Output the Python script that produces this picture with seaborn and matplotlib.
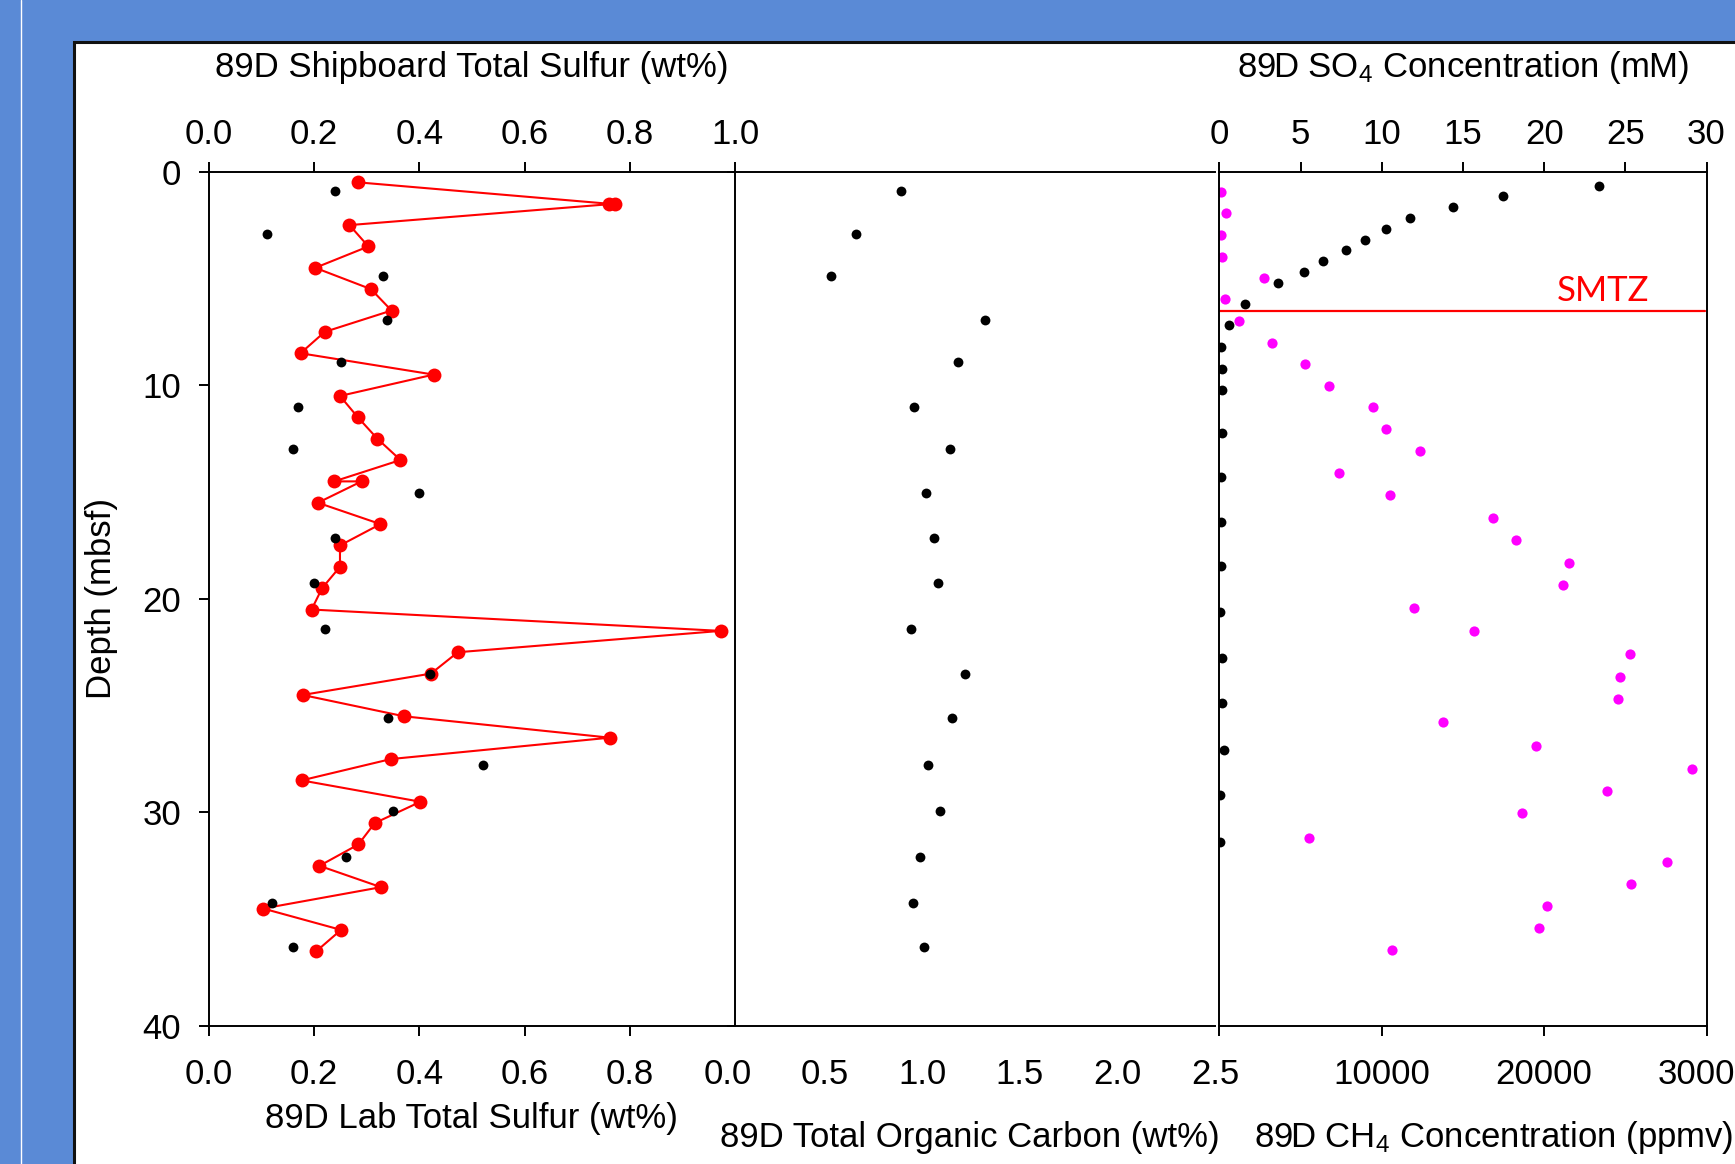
import matplotlib
matplotlib.use("Agg")
import matplotlib.pyplot as plt
import seaborn as sns
from matplotlib.patches import Rectangle
from matplotlib.lines import Line2D

# ---------------- data ----------------
lab_depth = [0.5, 1.5, 1.5, 2.5, 3.5, 4.5, 5.5, 6.5, 7.5, 8.5, 9.5, 10.5, 11.5, 12.5,
             13.5, 14.5, 14.5, 15.5, 16.5, 17.5, 18.5, 19.5, 20.5, 21.5, 22.5, 23.5,
             24.5, 25.5, 26.5, 27.5, 28.5, 29.5, 30.5, 31.5, 32.5, 33.5, 34.5, 35.5, 36.5]
lab_sulfur = [0.284, 0.760, 0.772, 0.267, 0.303, 0.202, 0.308, 0.347, 0.220, 0.174,
              0.427, 0.249, 0.283, 0.320, 0.364, 0.238, 0.290, 0.207, 0.326, 0.249,
              0.249, 0.215, 0.195, 0.973, 0.473, 0.422, 0.178, 0.371, 0.762, 0.346,
              0.176, 0.402, 0.315, 0.284, 0.210, 0.327, 0.103, 0.251, 0.204]

sample_depth = [0.9, 2.9, 4.9, 6.95, 8.9, 11.0, 13.0, 15.05, 17.15, 19.25, 21.4, 23.5,
                25.6, 27.8, 29.95, 32.1, 34.25, 36.3]
ship_sulfur = [0.240, 0.110, 0.330, 0.339, 0.250, 0.170, 0.160, 0.400, 0.240, 0.200,
               0.220, 0.421, 0.340, 0.520, 0.350, 0.260, 0.120, 0.160]
toc = [0.888, 0.659, 0.529, 1.319, 1.181, 0.958, 1.140, 1.020, 1.059, 1.080, 0.939,
       1.220, 1.150, 1.030, 1.090, 0.989, 0.950, 1.008]

so4_depth = [0.65, 1.15, 1.67, 2.17, 2.68, 3.18, 3.68, 4.18, 4.68, 5.19, 6.19, 7.19,
             8.22, 9.22, 10.21, 12.24, 14.29, 16.39, 18.48, 20.6, 22.76, 24.86, 27.06,
             29.2, 31.37]
so4 = [23.37, 17.48, 14.38, 11.75, 10.28, 8.97, 7.77, 6.39, 5.19, 3.58, 1.59, 0.60,
       0.08, 0.18, 0.18, 0.18, 0.08, 0.08, 0.08, 0.05, 0.18, 0.18, 0.29, 0.05, 0.05]

ch4_depth = [0.95, 1.95, 2.96, 3.98, 4.97, 5.97, 7.0, 8.0, 9.0, 10.03, 11.04, 12.05,
             13.07, 14.11, 15.16, 16.2, 17.25, 18.31, 19.36, 20.43, 21.52, 22.57, 23.65,
             24.71, 25.78, 26.89, 27.95, 29.01, 30.04, 31.18, 32.3, 33.35, 34.37, 35.4,
             36.43]
ch4 = [100, 400, 100, 180, 2720, 330, 1210, 3210, 5280, 6740, 9460, 10260, 12330, 7340,
       10530, 16840, 18260, 21540, 21150, 12010, 15690, 25290, 24690, 24550, 13750,
       19520, 29080, 23850, 18620, 5500, 27580, 25330, 20160, 19700, 10660]

smtz_depth = 6.5

sulfur_ticks = [0.0, 0.2, 0.4, 0.6, 0.8, 1.0]
toc_ticks = [0.0, 0.5, 1.0, 1.5, 2.0, 2.5]
so4_ticks = [0, 5, 10, 15, 20, 25, 30]
ch4_ticks = [0, 10000, 20000, 30000]
ch4_ticklabels = ["", "10000", "20000", "30000"]
depth_ticks = [0, 10, 20, 30, 40]

# ---------------- style ----------------
sns.set_theme(style="white")
plt.rcParams["font.family"] = ["Liberation Sans", "DejaVu Sans"]
plt.rcParams["mathtext.fontset"] = "custom"
plt.rcParams["mathtext.rm"] = "Liberation Sans"
plt.rcParams["mathtext.it"] = "Liberation Sans"
plt.rcParams["mathtext.bf"] = "Liberation Sans"
plt.rcParams["mathtext.default"] = "rm"

FS = 25
LW = 1.4
TL = 7.2
W, H = 1735, 1164
TOP, BOT = 171.7, 1026.0

fig = plt.figure(figsize=(W / 100, H / 100), dpi=100, facecolor="#5A8AD6")
fig.patches.append(Rectangle((74 / W, -0.05), 1.0, 1.05 - 42 / H, transform=fig.transFigure,
                             facecolor="white", edgecolor="#111111", lw=2.2, zorder=-5))
fig.add_artist(Line2D([21 / W, 21 / W], [0, 1], color="white", lw=1.0,
                      transform=fig.transFigure, zorder=-4))


def pos(l, r):
    return [l / W, 1 - BOT / H, (r - l) / W, (BOT - TOP) / H]


def style_ticks(ax, axis, pad):
    ax.tick_params(axis=axis, direction="out", length=TL, width=LW, color="black",
                   labelsize=FS, labelcolor="black", pad=pad)


def spines(ax, visible):
    for k, s in ax.spines.items():
        s.set_visible(k in visible)
        s.set_linewidth(LW)
        s.set_color("black")


# ---------- panel 1: sulfur ----------
ax1 = fig.add_axes(pos(209, 735))
ax1.patch.set_alpha(0)
sns.lineplot(x=lab_sulfur, y=lab_depth, sort=False, estimator=None, color="#FF0000",
             lw=1.5, marker="o", markersize=10, markeredgewidth=0, ax=ax1)
ax1.set_xlim(0, 1.0)
ax1.set_ylim(40, 0)
ax1.set_xticks(sulfur_ticks[:-1])
ax1.set_xticklabels([f"{v:.1f}" for v in sulfur_ticks[:-1]])
ax1.set_yticks(depth_ticks)
ax1.set_yticklabels([str(v) for v in depth_ticks])
spines(ax1, ["left", "right", "top", "bottom"])
style_ticks(ax1, "x", 15.5)
style_ticks(ax1, "y", 13)
ax1.tick_params(axis="x", top=False, bottom=True)
ax1.tick_params(axis="y", left=True, right=False)
ax1.set_xlabel("89D Lab Total Sulfur (wt%)", fontsize=FS, color="black")
ax1.xaxis.set_label_coords(0.498, (BOT - 1128) / (BOT - TOP))
ax1.xaxis.label.set_va("baseline")
ax1.set_ylabel("Depth (mbsf)", fontsize=FS, color="black")
ax1.yaxis.set_label_coords((101 - 209) / 526, 0.5)
ax1.yaxis.label.set_va("center")

ax1t = ax1.twiny()
sns.scatterplot(x=ship_sulfur, y=sample_depth, color="black", s=50, linewidth=0, ax=ax1t)
ax1t.set_xlim(0, 1.0)
ax1t.set_ylim(40, 0)
ax1t.set_xticks(sulfur_ticks)
ax1t.set_xticklabels([f"{v:.1f}" for v in sulfur_ticks])
spines(ax1t, [])
style_ticks(ax1t, "x", 8)
ax1t.tick_params(axis="x", top=True, bottom=False, labeltop=True, labelbottom=False)
ax1t.set_xlabel("89D Shipboard Total Sulfur (wt%)", fontsize=FS, color="black")
ax1t.xaxis.set_label_position("top")
ax1t.xaxis.set_label_coords(0.5, (BOT - 77.5) / (BOT - TOP))
ax1t.xaxis.label.set_va("baseline")

# ---------- panel 2: TOC ----------
ax2 = fig.add_axes(pos(727.5, 1215))
ax2.patch.set_alpha(0)
sns.scatterplot(x=toc, y=sample_depth, color="black", s=50, linewidth=0, ax=ax2)
ax2.set_xlim(0, 2.5)
ax2.set_ylim(40, 0)
ax2.set_xticks(toc_ticks)
ax2.set_xticklabels([f"{v:.1f}" for v in toc_ticks])
ax2.set_yticks([])
spines(ax2, ["top", "bottom"])
style_ticks(ax2, "x", 15.5)
ax2.set_xlabel("89D Total Organic Carbon (wt%)", fontsize=FS, color="black")
ax2.xaxis.set_label_coords((970 - 727.5) / 487.5, (BOT - 1147) / (BOT - TOP))
ax2.xaxis.label.set_va("baseline")
ax2.set_ylabel("")

# ---------- panel 3: SO4 / CH4 ----------
ax3 = fig.add_axes(pos(1219.4, 1706.5))
ax3.patch.set_alpha(0)
sns.scatterplot(x=ch4, y=ch4_depth, color="#FF00FF", s=54, linewidth=0, ax=ax3)
ax3.set_xlim(0, 30000)
ax3.set_ylim(40, 0)
ax3.set_xticks(ch4_ticks)
ax3.set_xticklabels(ch4_ticklabels)
ax3.set_yticks([])
spines(ax3, ["left", "right", "top", "bottom"])
style_ticks(ax3, "x", 15.5)
ax3.axhline(smtz_depth, xmin=0, xmax=0.997, color="#FF0000", lw=1.6)
ax3.text(20800, smtz_depth - 0.46, "SMTZ", color="#FF0000", fontsize=25,
         family=["Lato", "DejaVu Sans"], ha="left", va="baseline")
ax3.set_xlabel("89D CH$_4$ Concentration (ppmv)", fontsize=FS, color="black")
ax3.xaxis.set_label_coords((1494 - 1219.4) / 487.1, (BOT - 1147) / (BOT - TOP))
ax3.xaxis.label.set_va("baseline")
ax3.set_ylabel("")

ax3t = ax3.twiny()
sns.scatterplot(x=so4, y=so4_depth, color="black", s=50, linewidth=0, ax=ax3t)
ax3t.set_xlim(0, 30)
ax3t.set_ylim(40, 0)
ax3t.set_xticks(so4_ticks)
ax3t.set_xticklabels([str(v) for v in so4_ticks])
spines(ax3t, [])
style_ticks(ax3t, "x", 8)
ax3t.tick_params(axis="x", top=True, bottom=False, labeltop=True, labelbottom=False)
ax3t.set_xlabel("89D SO$_4$ Concentration (mM)", fontsize=FS, color="black")
ax3t.xaxis.set_label_position("top")
ax3t.xaxis.set_label_coords(0.5, (BOT - 77.5) / (BOT - TOP))
ax3t.xaxis.label.set_va("baseline")

fig.savefig("out.png", dpi=100, facecolor=fig.get_facecolor())
